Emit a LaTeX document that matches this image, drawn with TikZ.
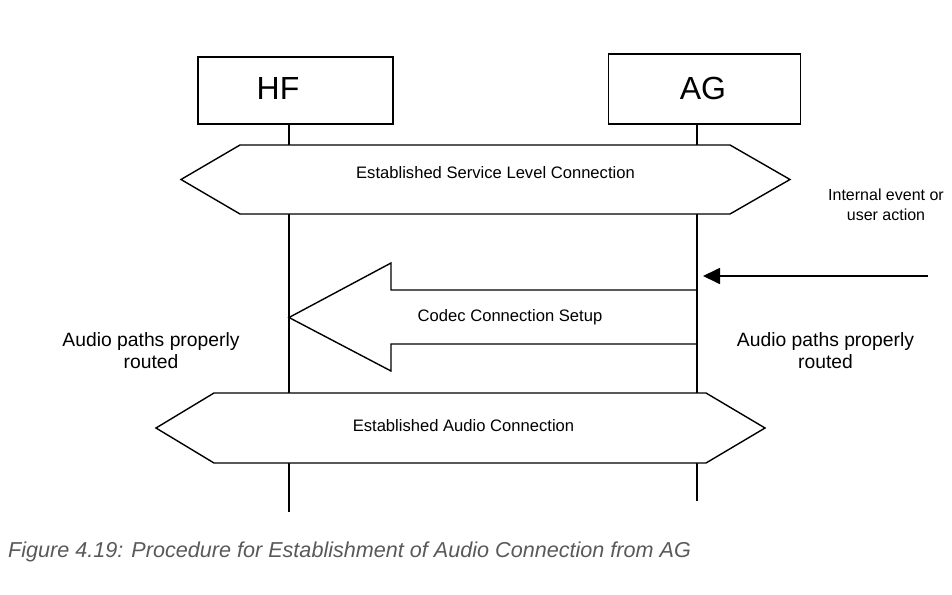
\documentclass[tikz,border=0pt]{standalone}
\usepackage{fontspec}
\setmainfont{Liberation Sans}
\usetikzlibrary{arrows.meta}
\definecolor{capgray}{HTML}{595959}
\tikzset{
  entbox/.style={draw, line width=1.1pt, inner sep=0pt},
  lifeline/.style={line width=1.8pt},
  hexline/.style={draw, line width=1.4pt, line join=miter, fill=white},
  lbl/.style={inner sep=0pt, font=\fontsize{16.6}{20}\selectfont},
  side/.style={inner sep=0pt, align=center, font=\fontsize{19.3}{22}\selectfont},
  big/.style={inner sep=0pt, font=\fontsize{32}{36}\selectfont}
}
\begin{document}
\begin{tikzpicture}[x=1pt,y=-1pt]
\useasboundingbox (0,0) rectangle (952,594);
% entity boxes
\node[entbox, minimum width=195pt, minimum height=67pt] (hfbox) at (295.5,90.5) {};
\node[entbox, minimum width=192pt, minimum height=70pt] (agbox) at (704.5,89) {};
\node[big] (hftxt) at (278,88) {HF};
\node[big] (agtxt) at (703,88) {AG};
% lifeline coordinates
\coordinate (hf0) at (289,124);
\coordinate (ag0) at (697,124);
\coordinate (hf1) at (289,145);
\coordinate (ag1) at (697,145);
\coordinate (hf2) at (289,214);
\coordinate (ag2) at (697,214);
\coordinate (hf3) at (289,393);
\coordinate (ag3) at (697,393);
\coordinate (hf4) at (289,463);
\coordinate (ag4) at (697,463);
\coordinate (hf5) at (289,512);
\coordinate (ag5) at (697,501);
\draw[lifeline] (hf0) -- (hf1);
\draw[lifeline] (ag0) -- (ag1);
\draw[lifeline] (hf2) -- (hf3);
\draw[lifeline] (ag2) -- (ag3);
\draw[lifeline] (hf4) -- (hf5);
\draw[lifeline] (ag4) -- (ag5);
% hexagon 1
\draw[hexline] (181,179.5) -- (240,145) -- (730,145) -- (790,179.5) -- (730,214) -- (240,214) -- cycle;
\node[lbl] (slc) at (495.5,173) {Established Service Level Connection};
% hexagon 2
\draw[hexline] (156,428) -- (214,393) -- (706,393) -- (765,428) -- (706,463) -- (214,463) -- cycle;
\node[lbl] (eac) at (463.5,426) {Established Audio Connection};
% big hollow arrow
\coordinate (tip) at (289,317.5);
\draw[line width=1.4pt, line join=miter] (697,290) -- (391,290) -- (391,263) -- (tip) -- (391,371) -- (391,344) -- (697,344);
\node[lbl] (codec) at (510,317.5) {Codec Connection Setup};
% internal event arrow
\coordinate (ext) at (928,276);
\coordinate (agin) at (703,276);
\draw[line width=1.8pt, -{Triangle[length=17pt,width=16pt]}] (ext) -- (agin);
\node[inner sep=0pt, align=center, font=\fontsize{16}{20}\selectfont] (ievent) at (886,205) {Internal event or\\user action};
% side notes
\node[side] (aphf) at (151,351) {Audio paths properly\\routed};
\node[side] (apag) at (825.5,351) {Audio paths properly\\routed};
% caption
\node[inner sep=0pt, anchor=west, text=capgray, font=\fontsize{21.6}{24}\selectfont\itshape] (cap) at (8,552) {Figure 4.19: Procedure for Establishment of Audio Connection from AG};
\end{tikzpicture}
\end{document}
